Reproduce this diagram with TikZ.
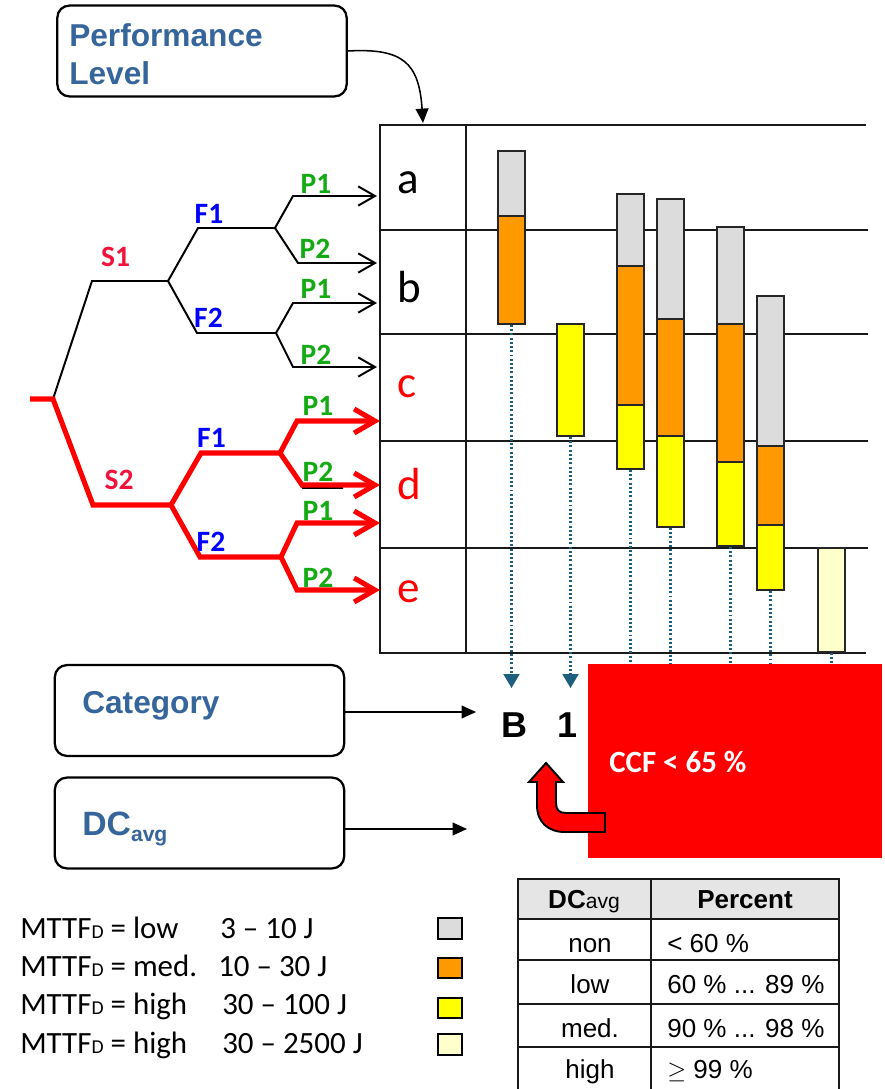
\documentclass[tikz,border=0pt]{standalone}
\usepackage{fontspec}
\setmainfont{Carlito}
\newfontfamily\arialfont{Liberation Sans}
\usetikzlibrary{arrows.meta}

\definecolor{plblue}{RGB}{54,101,155}
\definecolor{scolor}{RGB}{240,20,60}
\definecolor{fblue}{RGB}{0,0,255}
\definecolor{pgreen}{RGB}{20,170,20}
\definecolor{mttflow}{RGB}{220,220,220}
\definecolor{mttfmed}{RGB}{255,153,0}
\definecolor{mttfhigh}{RGB}{255,255,0}
\definecolor{mttfvhigh}{RGB}{255,255,204}
\definecolor{dropblue}{RGB}{30,95,125}
\definecolor{ccfred}{RGB}{255,0,0}

\tikzset{
  infobox/.style={draw, line width=1.6pt, rounded corners=3mm, minimum width=7.23cm, minimum height=2.27cm},
  infotext/.style={text=plblue, font=\arialfont\bfseries\fontsize{22.5}{27}\selectfont, inner sep=0pt, anchor=base west},
  treeline/.style={line width=1.4pt},
  redline/.style={line width=3.6pt, red},
  blackarrow/.style={treeline, -{Straight Barb[length=4.2mm, width=4.8mm]}},
  redarrow/.style={redline, -{Straight Barb[length=5.2mm, width=6mm]}},
  slabel/.style={text=scolor, font=\bfseries\fontsize{21}{24}\selectfont, inner sep=0pt},
  flabel/.style={slabel, text=fblue},
  plabel/.style={slabel, text=pgreen},
  level/.style={font=\fontsize{32}{36}\selectfont, inner sep=0pt, anchor=base west},
  gridline/.style={line width=1.1pt, black!90},
  bar/.style={draw=black!85, line width=1pt},
  dropline/.style={dropblue, dash pattern=on 1.4pt off 1.6pt, line width=1.5pt},
  droparrow/.style={dropline, -{Triangle[length=3.5mm, width=4mm]}},
  catarrow/.style={line width=1.1pt, -{Triangle[length=3.6mm, width=3.2mm]}},
  legendtext/.style={font=\fontsize{22}{26}\selectfont, inner sep=0pt, anchor=base west},
  legendbox/.style={draw, line width=1.1pt},
  tabtext/.style={font=\arialfont\fontsize{18.5}{22}\selectfont, inner sep=0pt, anchor=base},
}

\begin{document}
\begin{tikzpicture}[x=0.025cm, y=-0.025cm]
\useasboundingbox (0,0) rectangle (884,1089);

% Performance level box
\node[infobox] (plbox) at (202,51) {};
\node[infotext] (pltext) at (69,47) {Performance};
\node[infotext] (pltext2) at (69,85) {Level};
\coordinate (pltip) at (423,123);
\draw[catarrow] (plbox.east) .. controls (402,48) and (419,62) .. (pltip);

% Level column and rows
\draw[gridline] (380,125) rectangle (466,653);
\draw[gridline] (466,125) -- (866,125);
\draw[gridline] (380,230) -- (868,230);
\draw[gridline] (380,334) -- (868,334);
\draw[gridline] (380,441) -- (868,441);
\draw[gridline] (380,548) -- (868,548);
\draw[gridline] (466,653) -- (866,653);

\node[level] (la) at (397,194) {a};
\node[level] (lb) at (397,303) {b};
\node[level, text=red] (lc) at (397,397) {c};
\node[level, text=red] (ld) at (397,499) {d};
\node[level, text=red] (le) at (397,602) {e};

% Risk graph, upper half (S1)
\coordinate (root0) at (30,399);
\coordinate (root) at (53,399);
\coordinate (s1a) at (92,281);   \coordinate (s1) at (168,281);
\coordinate (f1a) at (198,228);  \coordinate (f1) at (275,228);
\coordinate (f2a) at (197,333);  \coordinate (f2) at (276,333);
\coordinate (p11a) at (293,196); \coordinate (p11) at (377,196);
\coordinate (p12a) at (298,263); \coordinate (p12) at (377,263);
\coordinate (p21a) at (293,303); \coordinate (p21) at (377,303);
\coordinate (p22a) at (293,367); \coordinate (p22) at (377,367);

\draw[treeline] (root) -- (s1a) -- (s1);
\draw[treeline] (s1) -- (f1a) -- (f1);
\draw[treeline] (s1) -- (f2a) -- (f2);
\draw[blackarrow] (f1) -- (p11a) -- (p11);
\draw[blackarrow] (f1) -- (p12a) -- (p12);
\draw[blackarrow] (f2) -- (p21a) -- (p21);
\draw[blackarrow] (f2) -- (p22a) -- (p22);

% Risk graph, lower half (S2)
\coordinate (s2a) at (93,505);   \coordinate (s2) at (171,505);
\coordinate (g1a) at (201,453);  \coordinate (g1) at (280,453);
\coordinate (g2a) at (200,557);  \coordinate (g2) at (281,557);
\coordinate (q11a) at (297,421); \coordinate (q11) at (380,421);
\coordinate (q12a) at (302,485); \coordinate (q12) at (380,485);
\coordinate (q21a) at (297,523); \coordinate (q21) at (380,523);
\coordinate (q22a) at (297,590); \coordinate (q22) at (380,590);

\draw[treeline] ([shift={(1,3)}]g1) -- ([shift={(1,3)}]q12a) -- ++(40,0);
\draw[redline] (root0) -- (root) -- (s2a) -- (s2);
\draw[redline] (s2) -- (g1a) -- (g1);
\draw[redline] (s2) -- (g2a) -- (g2);
\draw[redarrow] (g1) -- (q11a) -- (q11);
\draw[redarrow] (g1) -- (q12a) -- (q12);
\draw[redarrow] (g2) -- (q21a) -- (q21);
\draw[redarrow] (g2) -- (q22a) -- (q22);

\node[slabel] (ls1) at (115.5,257) {S1};
\node[flabel] (lf1) at (209,214) {F1};
\node[flabel] (lf2) at (208.5,318) {F2};
\node[plabel] (lp11) at (316,183.5) {P1};
\node[plabel] (lp12) at (315,248.5) {P2};
\node[plabel] (lp21) at (316,289) {P1};
\node[plabel] (lp22) at (316,354.5) {P2};
\node[slabel] (ls2) at (119,480) {S2};
\node[flabel] (lg1) at (211.5,437.5) {F1};
\node[flabel] (lg2) at (211,542) {F2};
\node[plabel] (lq11) at (318,405.5) {P1};
\node[plabel] (lq12) at (318,472) {P2};
\node[plabel] (lq21) at (318,511) {P1};
\node[plabel] (lq22) at (318,577.5) {P2};

% MTTFd bars
\draw[bar, fill=mttflow] (498,151) rectangle (525,216);
\draw[bar, fill=mttfmed] (498,216) rectangle (525,324);
\draw[bar, fill=mttfhigh] (557,324) rectangle (584,436);
\draw[bar, fill=mttflow] (617,194) rectangle (644,266);
\draw[bar, fill=mttfmed] (617,266) rectangle (644,405);
\draw[bar, fill=mttfhigh] (617,405) rectangle (644,469);
\draw[bar, fill=mttflow] (657,199) rectangle (684,319);
\draw[bar, fill=mttfmed] (657,319) rectangle (684,436);
\draw[bar, fill=mttfhigh] (657,436) rectangle (684,527);
\draw[bar, fill=mttflow] (717,227) rectangle (744,324);
\draw[bar, fill=mttfmed] (717,324) rectangle (744,462);
\draw[bar, fill=mttfhigh] (717,462) rectangle (744,546);
\draw[bar, fill=mttflow] (757,296) rectangle (784,446);
\draw[bar, fill=mttfmed] (757,446) rectangle (784,525);
\draw[bar, fill=mttfhigh] (757,525) rectangle (784,590);
\draw[bar, fill=mttfvhigh] (818,548) rectangle (845,652);

\coordinate (b1) at (511.5,325);
\coordinate (b2) at (570.5,437);
\coordinate (b3) at (630.5,470);
\coordinate (b4) at (670.5,528);
\coordinate (b5) at (730.5,547);
\coordinate (b6) at (770.5,591);
\coordinate (b7) at (831.5,653);

% Categories
\coordinate (tipB) at (511.5,688);
\coordinate (tip1) at (570.5,688);
\draw[droparrow] (b1) -- (tipB);
\draw[droparrow] (b2) -- (tip1);
\draw[dropline] (b3) -- (b3 |- 0,664);
\draw[dropline] (b4) -- (b4 |- 0,664);
\draw[dropline] (b5) -- (b5 |- 0,664);
\draw[dropline] (b6) -- (b6 |- 0,664);
\draw[dropline] (b7) -- (b7 |- 0,664);

\node[font=\arialfont\bfseries\fontsize{25.6}{30}\selectfont, inner sep=0pt, anchor=base] (catB) at (514.5,737) {B};
\node[font=\arialfont\bfseries\fontsize{25.6}{30}\selectfont, inner sep=0pt, anchor=base] (cat1) at (567,737) {1};

\fill[ccfred] (588,664) rectangle (882,858);
\node[text=white, font=\bfseries\fontsize{22}{26}\selectfont, inner sep=0pt, anchor=base west] (ccf) at (609,772) {CCF < 65 \%};
\draw[fill=red, line width=1.4pt, line join=miter] (546,763) -- (563,782) -- (556,782) -- (556,803)
  .. controls (556,810) and (559,813) .. (566,813) -- (605,813) -- (605,832) -- (565,832)
  .. controls (548,832) and (537,822) .. (537,805) -- (537,782) -- (529,782) -- cycle;

\node[infobox] (catbox) at (199.5,710.5) {};
\node[infotext] (cattext) at (82,713) {Category};
\coordinate (catend) at (476,712);
\draw[catarrow] (catbox.east |- catend) -- (catend);

\node[infobox] (dcbox) at (199.5,823) {};
\node[infotext, font=\arialfont\bfseries\fontsize{24}{28}\selectfont] (dctext) at (82,835) {DC\raisebox{-0.35ex}{\fontsize{15}{18}\selectfont avg}};
\coordinate (dcend) at (467,829);
\draw[catarrow] (dcbox.east |- dcend) -- (dcend);

% Legend
\node[legendtext] (m1) at (20,938) {MTTF{\fontsize{14}{16}\selectfont D} = low};
\node[legendtext] (m1v) at (220,938) {3 -- 10 J};
\node[legendtext] (m2) at (20,976) {MTTF{\fontsize{14}{16}\selectfont D} = med.};
\node[legendtext] (m2v) at (218,976) {10 -- 30 J};
\node[legendtext] (m3) at (20,1014) {MTTF{\fontsize{14}{16}\selectfont D} = high};
\node[legendtext] (m3v) at (222,1014) {30 -- 100 J};
\node[legendtext] (m4) at (20,1053) {MTTF{\fontsize{14}{16}\selectfont D} = high};
\node[legendtext] (m4v) at (222,1053) {30 -- 2500 J};
\draw[legendbox, fill=mttflow] (438,918) rectangle (462,939);
\draw[legendbox, fill=mttfmed] (438,958) rectangle (462,978);
\draw[legendbox, fill=mttfhigh] (438,998) rectangle (462,1018);
\draw[legendbox, fill=mttfvhigh] (438,1034) rectangle (462,1055);

% DCavg table
\fill[gray!20] (518,879) rectangle (839,919);
\draw[gridline] (518,1089) -- (518,879) -- (839,879) -- (839,1089);
\draw[gridline] (651,879) -- (651,1089);
\draw[gridline] (518,919) -- (839,919);
\draw[gridline] (518,960) -- (839,960);
\draw[gridline] (518,1004) -- (839,1004);
\draw[gridline] (518,1047) -- (839,1047);

\node[tabtext] (hdc) at (584,908) {\textbf{DC}{\fontsize{15}{18}\selectfont avg}};
\node[tabtext] (hpc) at (745,908) {\textbf{Percent}};
\node[tabtext] (r1) at (590,952) {non};
\node[tabtext] (r2) at (590,993) {low};
\node[tabtext] (r3) at (590,1037) {med.};
\node[tabtext] (r4) at (590,1078) {high};
\node[tabtext, anchor=base west] (v1) at (667,952) {< 60 \%};
\node[tabtext, anchor=base west] (v2) at (667,993) {60 \% ... 89 \%};
\node[tabtext, anchor=base west] (v3) at (667,1037) {90 \% ... 98 \%};
\node[tabtext, anchor=base west] (v4) at (667,1078) {$\geq$ 99 \%};
\end{tikzpicture}
\end{document}
